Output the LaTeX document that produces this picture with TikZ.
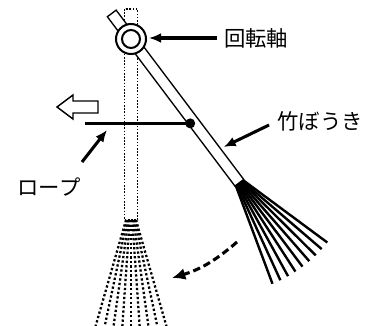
\documentclass[tikz,border=0pt]{standalone}
\usepackage{fontspec}
\newfontfamily\jpfont{Noto Sans CJK JP}
\usetikzlibrary{arrows.meta}
\begin{document}
\begin{tikzpicture}[x=0.75pt,y=-0.75pt,
  stickedge/.style={line width=1pt},
  strawline/.style={line width=1.8pt},
  ghostedge/.style={line width=1.2pt, dash pattern=on 1.2pt off 1.2pt},
  ghoststraw/.style={line width=1.7pt, dash pattern=on 1.7pt off 1.7pt},
  pointer/.style={line width=2.3pt, -{Latex[length=9pt,width=7.5pt]}},
  swing/.style={line width=2.3pt, dash pattern=on 5.5pt off 3pt, -{Latex[length=10pt,width=9pt]}},
  jplabel/.style={font=\jpfont\fontsize{16pt}{18pt}\selectfont, inner sep=0pt}]
\useasboundingbox (0,0) rectangle (375,325);
\clip (0,0) rectangle (375,325);
\coordinate (pivot) at (131,39);

% broom hanging straight down (dotted)
\begin{scope}[shift={(pivot)}]
  \draw[ghostedge] (-6.5,-30) rectangle (6.5,181);
  \foreach \i in {0,...,8}{
    \pgfmathsetmacro\s{-5+10*\i/8}
    \pgfmathsetmacro\a{-16+32*\i/8}
    \draw[ghoststraw] (\s,181) -- ({\s+112*sin(\a)},{181+112*cos(\a)});
  }
\end{scope}

% broom swung out (solid)
\begin{scope}[shift={(pivot)}, rotate=37]
  \foreach \i in {0,...,8}{
    \pgfmathsetmacro\s{-4.5+9*\i/8}
    \pgfmathsetmacro\a{-16.5+33*\i/8}
    \draw[strawline] (\s,180) -- ({\s+105*sin(\a)},{180+105*cos(\a)});
  }
  \draw[stickedge, fill=white] (-5.5,-32) rectangle (5.5,180);
  \coordinate (tie) at (-3.5,103);
  \coordinate (shaftmark) at (9,142);
\end{scope}

% pivot
\draw[line width=1.5pt, fill=white] (pivot) circle[radius=15];
\draw[line width=1.5pt] (pivot) circle[radius=9];

% rope and pull direction
\coordinate (ropeleft) at (85,0);
\draw[line width=2.5pt] (ropeleft |- tie) -- (tie);
\fill (tie) circle[radius=5];
\draw[line width=1.1pt, line join=miter]
  (57,107) -- (73,95) -- (73,101) -- (98,101) -- (98,113) -- (73,113) -- (73,119) -- cycle;

% labels
\node[jplabel] (axislbl) at (256,38) {回転軸};
\node[jplabel] (broomlbl) at (320,121) {竹ぼうき};
\node[jplabel] (ropelbl) at (49,187) {ロープ};

\coordinate (axistip) at (149,38);
\coordinate (ropemark) at (107,130);
\draw[pointer] ([xshift=-5]axislbl.west) -- (axistip);
\draw[pointer] ([shift={(-8,4)}]broomlbl.west) -- (shaftmark);
\draw[pointer] ([shift={(33,-25)}]ropelbl.center) -- (ropemark);

% swing direction
\coordinate (swingfrom) at (237,242);
\coordinate (swingto) at (172,278);
\draw[swing] (swingfrom) to[bend left=12] (swingto);
\end{tikzpicture}
\end{document}
